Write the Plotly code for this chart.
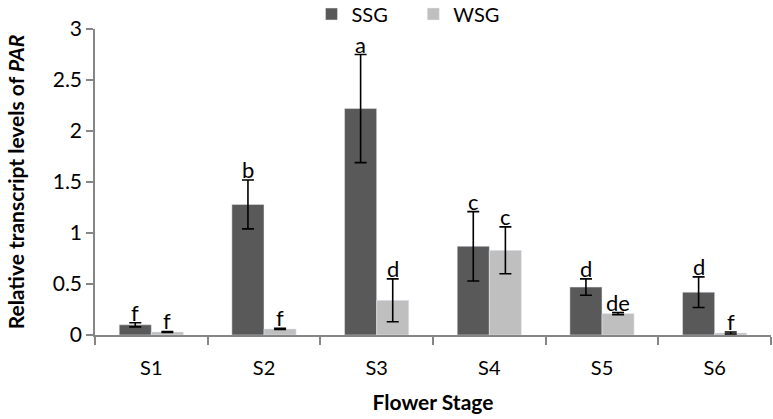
import plotly.graph_objects as go

stages = ["S1", "S2", "S3", "S4", "S5", "S6"]
ssg = [0.10, 1.28, 2.22, 0.87, 0.47, 0.42]
ssg_err = [0.02, 0.24, 0.53, 0.34, 0.08, 0.15]
wsg = [0.03, 0.06, 0.34, 0.83, 0.21, 0.02]
wsg_err = [0.005, 0.005, 0.21, 0.23, 0.01, 0.01]
ssg_letters = ["f", "b", "a", "c", "d", "d"]
wsg_letters = ["f", "f", "d", "c", "de", "f"]

FONT = "Lato, 'Open Sans', sans-serif"

fig = go.Figure()
fig.add_trace(go.Bar(
    x=stages, y=ssg, name="SSG\u00a0\u00a0\u00a0\u00a0", marker_color="#595959",
    error_y=dict(type="data", array=ssg_err, color="black", thickness=1.6, width=6),
))
fig.add_trace(go.Bar(
    x=stages, y=wsg, name="WSG", marker_color="#BFBFBF",
    error_y=dict(type="data", array=wsg_err, color="black", thickness=1.6, width=6),
))

bar_px = 32
for i, s in enumerate(stages):
    fig.add_annotation(x=s, y=ssg[i] + ssg_err[i], text=ssg_letters[i], showarrow=False,
                       xshift=-bar_px / 2, yanchor="bottom", yshift=-5,
                       font=dict(size=22, color="black", family=FONT))
    fig.add_annotation(x=s, y=wsg[i] + wsg_err[i], text=wsg_letters[i], showarrow=False,
                       xshift=bar_px / 2, yanchor="bottom", yshift=-5,
                       font=dict(size=22, color="black", family=FONT))

fig.update_layout(
    width=773, height=419,
    margin=dict(l=95, r=2, t=29, b=84, autoexpand=False),
    paper_bgcolor="white", plot_bgcolor="white",
    barmode="group", bargap=0.43, bargroupgap=0,
    font=dict(family=FONT, size=20, color="black"),
    legend=dict(orientation="h", x=0.463, xanchor="center", y=1.049, yanchor="middle",
                font=dict(size=20), itemwidth=30, traceorder="normal",
                tracegroupgap=0, bgcolor="rgba(0,0,0,0)"),
    xaxis=dict(
        showline=True, linecolor="#868686", linewidth=1.5,
        ticks="outside", tickson="boundaries", ticklen=8, tickcolor="#868686", tickwidth=1.5,
        ticklabelstandoff=14, tickfont=dict(size=20),
        title=dict(text="<b>Flower Stage</b>", font=dict(size=21), standoff=18),
    ),
    yaxis=dict(
        range=[0, 3], dtick=0.5, showgrid=False, zeroline=False,
        showline=True, linecolor="#868686", linewidth=1.5,
        ticks="outside", ticklen=7, tickcolor="#868686", tickwidth=1.5,
        tickfont=dict(size=21), tickformat="~g",
        title=dict(text="<b>Relative transcript levels of <i>PAR</i></b>", font=dict(size=21), standoff=22),
    ),
)

fig.write_html("out.html", config={"displayModeBar": False},
               post_script="document.body.style.margin='0';document.body.style.overflow='hidden';")
